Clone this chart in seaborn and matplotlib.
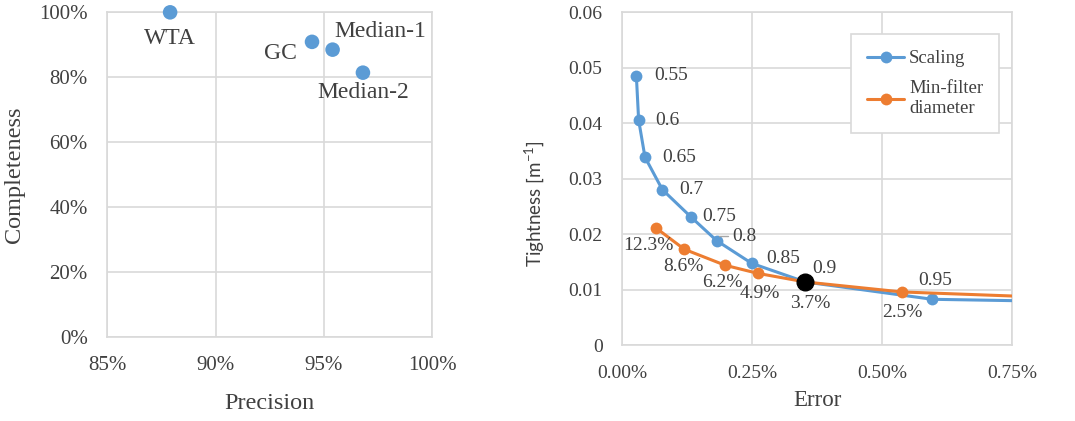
import matplotlib
matplotlib.use("Agg")
import matplotlib.pyplot as plt
from matplotlib.ticker import PercentFormatter, MultipleLocator, FuncFormatter
import seaborn as sns
import pandas as pd

# ---- left panel: precision / completeness of the matching methods ----
methods = ["WTA", "GC", "Median-1", "Median-2"]
precision = [0.879, 0.9445, 0.954, 0.968]
completeness = [1.000, 0.909, 0.885, 0.814]

# ---- right panel: tightness vs. error ----
scaling_labels = ["0.55", "0.6", "0.65", "0.7", "0.75", "0.8", "0.85", "0.9", "0.95", ""]
scaling_error = [0.000276, 0.000320, 0.000442, 0.000776, 0.001333, 0.001820,
                 0.002494, 0.003526, 0.005968, 0.009000]
scaling_tight = [0.0486, 0.0406, 0.0339, 0.02805, 0.02306, 0.01886,
                 0.01477, 0.01141, 0.00829, 0.00781]

minfilter_labels = ["12.3%", "8.6%", "6.2%", "4.9%", "3.7%", "2.5%", ""]
minfilter_error = [0.000654, 0.001199, 0.001987, 0.002609, 0.003526, 0.005385, 0.009500]
minfilter_tight = [0.02114, 0.01730, 0.01441, 0.01297, 0.01141, 0.00961, 0.00820]

chosen_index = 7  # scaling 0.9 / min-filter 3.7%

BLUE = "#5B9BD5"
ORANGE = "#ED7D31"
TEXT = "#404040"
GRID = "#d9d9d9"

sns.set_theme(style="whitegrid")
plt.rcParams["font.family"] = ["Liberation Serif", "DejaVu Serif"]
plt.rcParams["mathtext.fontset"] = "custom"
plt.rcParams["mathtext.rm"] = "Lato"
plt.rcParams["mathtext.it"] = "Lato"
plt.rcParams["text.color"] = TEXT
plt.rcParams["axes.labelcolor"] = TEXT
plt.rcParams["xtick.color"] = TEXT
plt.rcParams["ytick.color"] = TEXT

fig = plt.figure(figsize=(10.75, 4.21), dpi=100)
ax1 = fig.add_axes([0.0998, 0.2002, 0.3023, 0.7705])
ax2 = fig.add_axes([0.5786, 0.1798, 0.3628, 0.7910])

for ax in (ax1, ax2):
    ax.set_facecolor("white")
    ax.grid(True, color=GRID, linewidth=1.2)
    for s in ax.spines.values():
        s.set_color(GRID)
        s.set_linewidth(1.2)
    ax.tick_params(length=0)

# Left scatter
left_df = pd.DataFrame({"method": methods, "precision": precision,
                        "completeness": completeness})
sns.scatterplot(data=left_df, x="precision", y="completeness", ax=ax1,
                color=BLUE, s=110, edgecolor="none", zorder=3, clip_on=False)
ax1.set_xlim(0.85, 1.0)
ax1.set_ylim(0, 1.0)
ax1.xaxis.set_major_locator(MultipleLocator(0.05))
ax1.yaxis.set_major_locator(MultipleLocator(0.2))
ax1.xaxis.set_major_formatter(PercentFormatter(xmax=1, decimals=0))
ax1.yaxis.set_major_formatter(PercentFormatter(xmax=1, decimals=0))
ax1.tick_params(axis="both", labelsize=15, pad=14)
ax1.set_xlabel("Precision", fontsize=17.5, labelpad=13)
ax1.set_ylabel("Completeness", fontsize=17.5, labelpad=10)

left_offsets = {"WTA": (0, -26, "center"), "GC": (-15, -12, "right"),
                "Median-1": (2, 18, "left"), "Median-2": (0, -20, "center")}
for m, px, py in zip(methods, precision, completeness):
    dx, dy, ha = left_offsets[m]
    ax1.annotate(m, (px, py), xytext=(dx, dy), textcoords="offset pixels",
                 ha=ha, va="center", fontsize=17, color=TEXT)

# Right line chart
sns.lineplot(x=scaling_error, y=scaling_tight, ax=ax2, sort=False, color=BLUE,
             marker="o", markersize=8.5, markeredgewidth=0, linewidth=2.2,
             label="Scaling", zorder=3)
sns.lineplot(x=minfilter_error, y=minfilter_tight, ax=ax2, sort=False, color=ORANGE,
             marker="o", markersize=8.5, markeredgewidth=0, linewidth=2.2,
             label="Min-filter\ndiameter", zorder=4)
ax2.plot([scaling_error[chosen_index]], [scaling_tight[chosen_index]], "o",
         color="black", markersize=12, zorder=5)

ax2.set_xlim(0, 0.0075)
ax2.set_ylim(0, 0.06)
ax2.xaxis.set_major_locator(MultipleLocator(0.0025))
ax2.yaxis.set_major_locator(MultipleLocator(0.01))
ax2.xaxis.set_major_formatter(PercentFormatter(xmax=1, decimals=2))
ax2.yaxis.set_major_formatter(
    FuncFormatter(lambda v, p: "0" if abs(v) < 1e-12 else f"{v:.2f}"))
ax2.tick_params(axis="both", labelsize=14, pad=14)
ax2.set_xlabel("Error", fontsize=16.5, labelpad=6)
ax2.set_ylabel("Tightness [m$^{-1}$]", fontsize=13.5,
               fontfamily=["Lato", "DejaVu Sans"])
ax2.yaxis.set_label_coords(-0.195, 0.427)

scaling_offsets = [(18, 0), (17, -1), (17, 0), (17, 0), (11, 1),
                   (16, 4), (15, 5), (7, 13), (-14, 19), (0, 0)]
for lab, ex, ty, (dx, dy) in zip(scaling_labels, scaling_error, scaling_tight,
                                 scaling_offsets):
    if not lab:
        continue
    kw = {}
    if lab == "0.8":
        kw["arrowprops"] = dict(arrowstyle="-", color="#a6a6a6", lw=1,
                                shrinkA=1, shrinkB=4, relpos=(0, 0.55),
                                connectionstyle="angle,angleA=0,angleB=90,rad=0")
    ax2.annotate(lab, (ex, ty), xytext=(dx, dy), textcoords="offset pixels",
                 ha="left", va="center", fontsize=14, color=TEXT, zorder=6, **kw)

minfilter_offsets = [(-8, -18), (-1, -17), (-3, -17), (2, -20), (5, -22), (0, -21), (0, 0)]
for lab, ex, ty, (dx, dy) in zip(minfilter_labels, minfilter_error, minfilter_tight,
                                 minfilter_offsets):
    if not lab:
        continue
    ax2.annotate(lab, (ex, ty), xytext=(dx, dy), textcoords="offset pixels",
                 ha="center", va="center", fontsize=14, color=TEXT, zorder=6)

leg = ax2.legend(loc="upper right", bbox_to_anchor=(0.967, 0.934), borderaxespad=0,
                 fontsize=13.5, frameon=True, fancybox=False, framealpha=1,
                 edgecolor=GRID, borderpad=0.85, handlelength=2.0, labelspacing=0.7,
                 handletextpad=0.25)
leg.get_frame().set_linewidth(1.2)
for t in leg.get_texts():
    t.set_color(TEXT)

fig.savefig("out.png", dpi=100, facecolor="white")
